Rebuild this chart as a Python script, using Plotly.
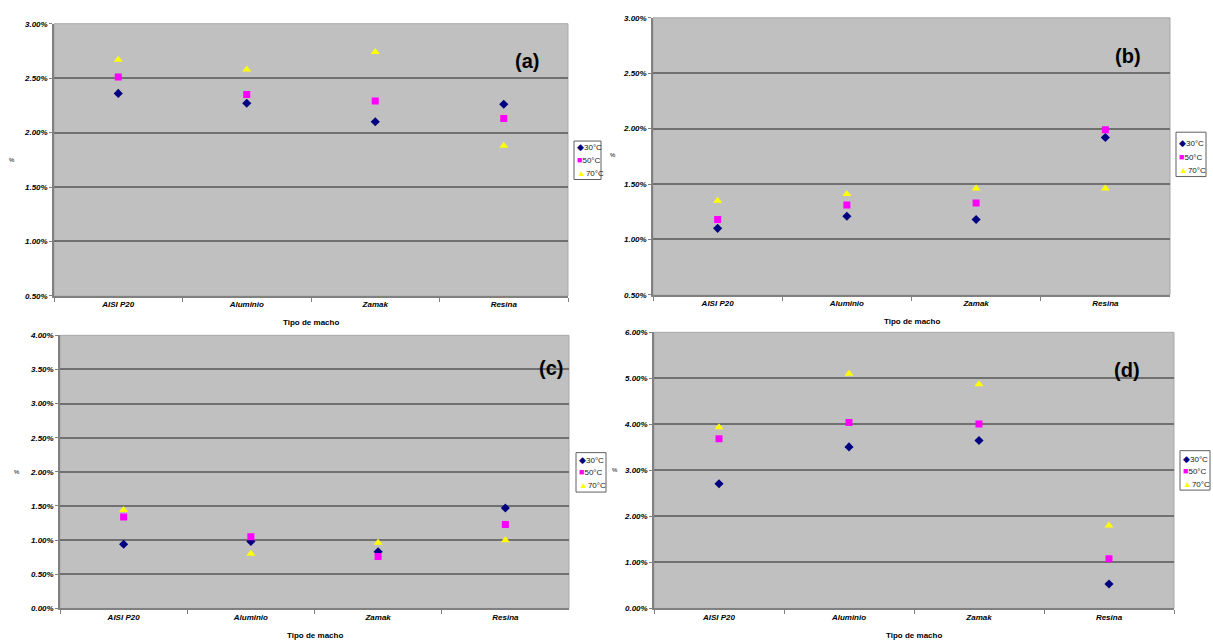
import plotly.graph_objects as go

# ---------------- data ----------------
categories = ["AISI P20", "Aluminio", "Zamak", "Resina"]
series_names = ["30°C", "50°C", "70°C"]

a_30 = [2.36, 2.27, 2.10, 2.26]
a_50 = [2.51, 2.35, 2.29, 2.13]
a_70 = [2.67, 2.58, 2.74, 1.88]

b_30 = [1.10, 1.21, 1.18, 1.92]
b_50 = [1.18, 1.31, 1.33, 1.99]
b_70 = [1.35, 1.41, 1.46, 1.46]

c_30 = [0.94, 0.98, 0.83, 1.47]
c_50 = [1.34, 1.05, 0.76, 1.23]
c_70 = [1.44, 0.80, 0.96, 1.00]

d_30 = [2.71, 3.51, 3.65, 0.53]
d_50 = [3.69, 4.04, 4.01, 1.08]
d_70 = [3.94, 5.10, 4.87, 1.80]

panel_labels = ["(a)", "(b)", "(c)", "(d)"]
x_title = "Tipo de macho"
y_title = "%"

# ---------------- styling / layout ----------------
W, H = 1213, 643
colors = ["#000080", "#FF00FF", "#FFFF00"]
symbols = ["diamond", "square", "triangle-up"]
glyphs = ["◆", "■", "▲"]
sizes = [7, 7, 8]

def px(x):
    return x / W

def py(y):
    return 1 - y / H

panels = [
    dict(data=[a_30, a_50, a_70], xd=(54, 568), yd=(20, 296), yr=(0.5, 3.0), dt=0.5,
         leg=(574, 139, 601, 178), legy=[145, 158, 171], lab=(527, 58), ytl=(12, 158)),
    dict(data=[b_30, b_50, b_70], xd=(653, 1170), yd=(14, 295), yr=(0.5, 3.0), dt=0.5,
         leg=(1176, 130, 1206, 175), legy=[141, 155, 168], lab=(1128, 53), ytl=(613, 153)),
    dict(data=[c_30, c_50, c_70], xd=(60, 569), yd=(336, 613), yr=(0.0, 4.0), dt=0.5,
         leg=(576, 455, 606, 495), legy=[462, 475, 488], lab=(551, 369), ytl=(17, 475)),
    dict(data=[d_30, d_50, d_70], xd=(654, 1174), yd=(333, 613), yr=(0.0, 6.0), dt=1.0,
         leg=(1180, 453, 1210, 493), legy=[461, 474, 487], lab=(1127, 371), ytl=(615, 473)),
]

fig = go.Figure()
annotations = []
shapes = []
layout = {}

tickfont = dict(family="Arial", size=8, color="#000000", weight="bold", style="italic")

for i, p in enumerate(panels):
    n = "" if i == 0 else str(i + 1)
    for s in range(3):
        fig.add_trace(go.Scatter(
            x=categories, y=p["data"][s], mode="markers", name=series_names[s],
            marker=dict(color=colors[s], symbol=symbols[s], size=sizes[s], line=dict(width=0)),
            xaxis="x" + n, yaxis="y" + n, showlegend=False,
        ))
    layout["xaxis" + n] = dict(
        domain=[px(p["xd"][0]), px(p["xd"][1])], anchor="y" + n,
        type="category", range=[-0.5, 3.5], tickson="boundaries",
        ticks="outside", ticklen=4, tickcolor="#808080",
        showline=True, linecolor="#808080", linewidth=1.5,
        showgrid=False, zeroline=False, tickfont=tickfont,
        fixedrange=True,
    )
    layout["yaxis" + n] = dict(
        domain=[py(p["yd"][1]), py(p["yd"][0])], anchor="x" + n,
        range=list(p["yr"]), dtick=p["dt"], tick0=0,
        tickformat=".2f", ticksuffix="%",
        ticks="outside", ticklen=3, tickcolor="#808080",
        showline=True, linecolor="#808080", linewidth=1.5,
        showgrid=True, gridcolor="#707070", gridwidth=1.7,
        zeroline=False, tickfont=tickfont, fixedrange=True,
    )
    # plot area background
    shapes.append(dict(type="rect", xref="paper", yref="paper", layer="below",
                       x0=px(p["xd"][0]), x1=px(p["xd"][1]),
                       y0=py(p["yd"][1]), y1=py(p["yd"][0]),
                       fillcolor="#C0C0C0", line=dict(color="#A8A8A8", width=1)))
    # x-axis title
    annotations.append(dict(text=x_title, xref="paper", yref="paper",
                            x=px((p["xd"][0] + p["xd"][1]) / 2), y=py(p["yd"][1] + 27),
                            showarrow=False, xanchor="center", yanchor="middle",
                            font=dict(family="Arial", size=8, color="#000000", weight="bold")))
    # y-axis title
    annotations.append(dict(text=y_title, xref="paper", yref="paper",
                            x=px(p["ytl"][0]), y=py(p["ytl"][1]),
                            showarrow=False, xanchor="center", yanchor="middle",
                            font=dict(family="Arial", size=6, color="#000000")))
    # panel letter
    annotations.append(dict(text=panel_labels[i], xref="paper", yref="paper",
                            x=px(p["lab"][0]), y=py(p["lab"][1]),
                            showarrow=False, xanchor="center", yanchor="middle",
                            font=dict(family="Arial", size=20, color="#000000", weight="bold")))
    # legend box
    lx0, ly0, lx1, ly1 = p["leg"]
    shapes.append(dict(type="rect", xref="paper", yref="paper",
                       x0=px(lx0), x1=px(lx1), y0=py(ly1), y1=py(ly0),
                       fillcolor="#FFFFFF", line=dict(color="#606060", width=1)))
    for s in range(3):
        annotations.append(dict(
            text=f'<span style="color:{colors[s]};font-size:9px">{glyphs[s]}</span>{series_names[s]}',
            xref="paper", yref="paper", x=px(lx0 + 1), y=py(p["legy"][s]),
            showarrow=False, xanchor="left", yanchor="middle",
            font=dict(family="Arial", size=8, color="#202020")))

fig.update_layout(
    width=W, height=H, margin=dict(l=0, r=0, t=0, b=0),
    paper_bgcolor="#FFFFFF", plot_bgcolor="rgba(0,0,0,0)",
    showlegend=False, annotations=annotations, shapes=shapes,
    **layout,
)

fig.write_html("out.html")
